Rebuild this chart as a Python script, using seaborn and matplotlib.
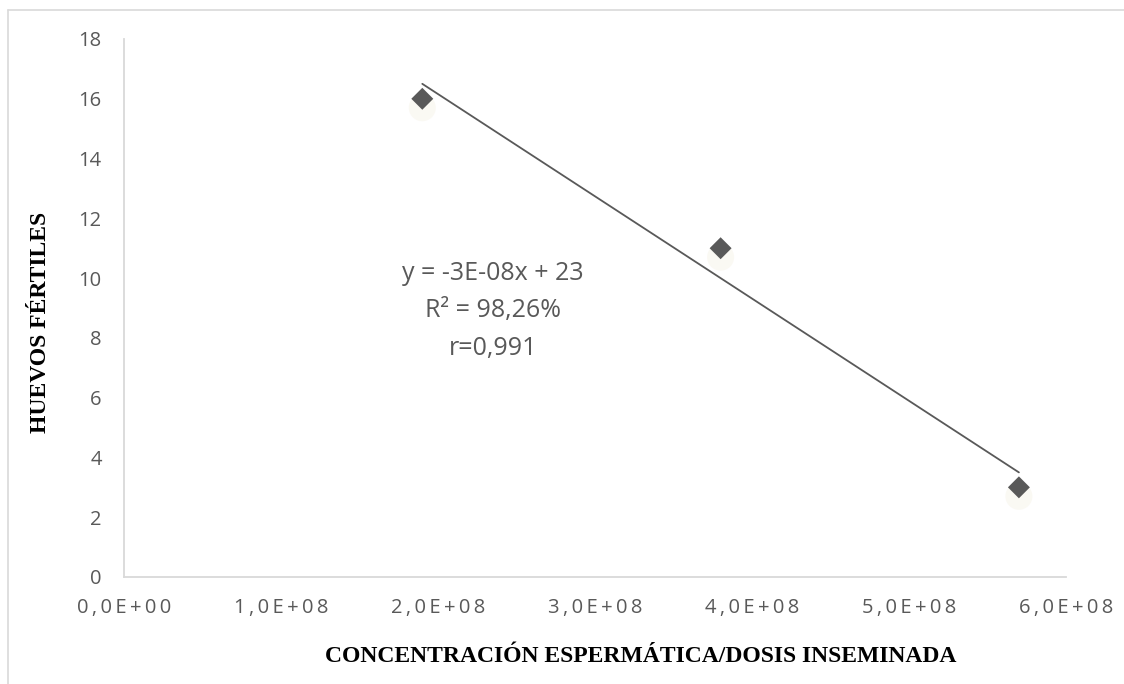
import numpy as np
import pandas as pd
import matplotlib
matplotlib.use("Agg")
import matplotlib.pyplot as plt
from matplotlib.lines import Line2D
from matplotlib.ticker import FixedLocator
import seaborn as sns

# Sperm concentration per inseminated dose vs fertile eggs
concentracion = [1.9e8, 3.8e8, 5.7e8]
huevos = [16, 11, 3]
y_ticks = [0, 2, 4, 6, 8, 10, 12, 14, 16, 18]
x_ticks = [0, 1e8, 2e8, 3e8, 4e8, 5e8, 6e8]
x_tick_labels = ["0,0E+00", "1,0E+08", "2,0E+08", "3,0E+08", "4,0E+08", "5,0E+08", "6,0E+08"]
ecuacion = "y = -3E-08x + 23\nR² = 98,26%\nr=0,991"

df = pd.DataFrame({"x": concentracion, "y": huevos})

sns.set_theme(style="white")
plt.rcParams["font.family"] = ["Open Sans", "DejaVu Sans"]

fig = plt.figure(figsize=(11.24, 6.84), dpi=100)
ax = fig.add_axes([124 / 1124, 1 - 577 / 684, (1066 - 124) / 1124, (577 - 39) / 684])

# linear trendline fitted to the points
pend, inter = np.polyfit(df["x"], df["y"], 1)
xs = np.array([df["x"].min(), df["x"].max()])
ax.plot(xs, pend * xs + inter, color="#595959", lw=1.3, zorder=2)

# soft shadow under the markers
sombra = df.assign(y=df["y"] - 0.3)
sns.scatterplot(data=sombra, x="x", y="y", ax=ax, marker="o", s=380, color="#f8f5ec",
                edgecolor="none", alpha=0.6, zorder=1)
sns.scatterplot(data=df, x="x", y="y", ax=ax, marker="D", s=125, color="#595959",
                edgecolor="none", zorder=3)

ax.set_xlim(0, 6e8)
ax.set_ylim(0, 18)
ax.xaxis.set_major_locator(FixedLocator(x_ticks))
# letter-spaced exponent labels
ax.set_xticklabels(["\u2009".join(list(t)) for t in x_tick_labels], family=["Open Sans", "DejaVu Sans"])
ax.yaxis.set_major_locator(FixedLocator(y_ticks))
ax.set_yticklabels([str(v) for v in y_ticks])
ax.tick_params(axis="both", length=0, colors="#595959", labelsize=14.5)
ax.tick_params(axis="x", pad=15)
ax.tick_params(axis="y", pad=16)

for s in ["top", "right"]:
    ax.spines[s].set_visible(False)
for s in ["left", "bottom"]:
    ax.spines[s].set_color("#d9d9d9")
    ax.spines[s].set_linewidth(1.3)

ax.set_xlabel("")
ax.set_ylabel("")
fig.text(641 / 1124, 1 - 657 / 684, "CONCENTRACIÓN ESPERMÁTICA/DOSIS INSEMINADA",
         family="Liberation Serif", fontweight="bold", fontsize=17, color="black",
         ha="center", va="center")
fig.text(40 / 1124, 1 - 322 / 684, "HUEVOS FÉRTILES", family="Liberation Serif",
         fontweight="bold", fontsize=17, color="black", rotation=90, ha="center", va="center")

ax.text(2.35e8, 8.9, ecuacion, ha="center", va="center", fontsize=18,
        color="#595959", linespacing=1.68)

# outer frame (top and left edges)
fig.add_artist(Line2D([8 / 1124, 1], [1 - 10 / 684, 1 - 10 / 684], color="#d9d9d9", lw=1.2,
                      transform=fig.transFigure))
fig.add_artist(Line2D([8 / 1124, 8 / 1124], [0, 1 - 10 / 684], color="#d9d9d9", lw=1.2,
                      transform=fig.transFigure))

fig.savefig("out.png", dpi=100)
